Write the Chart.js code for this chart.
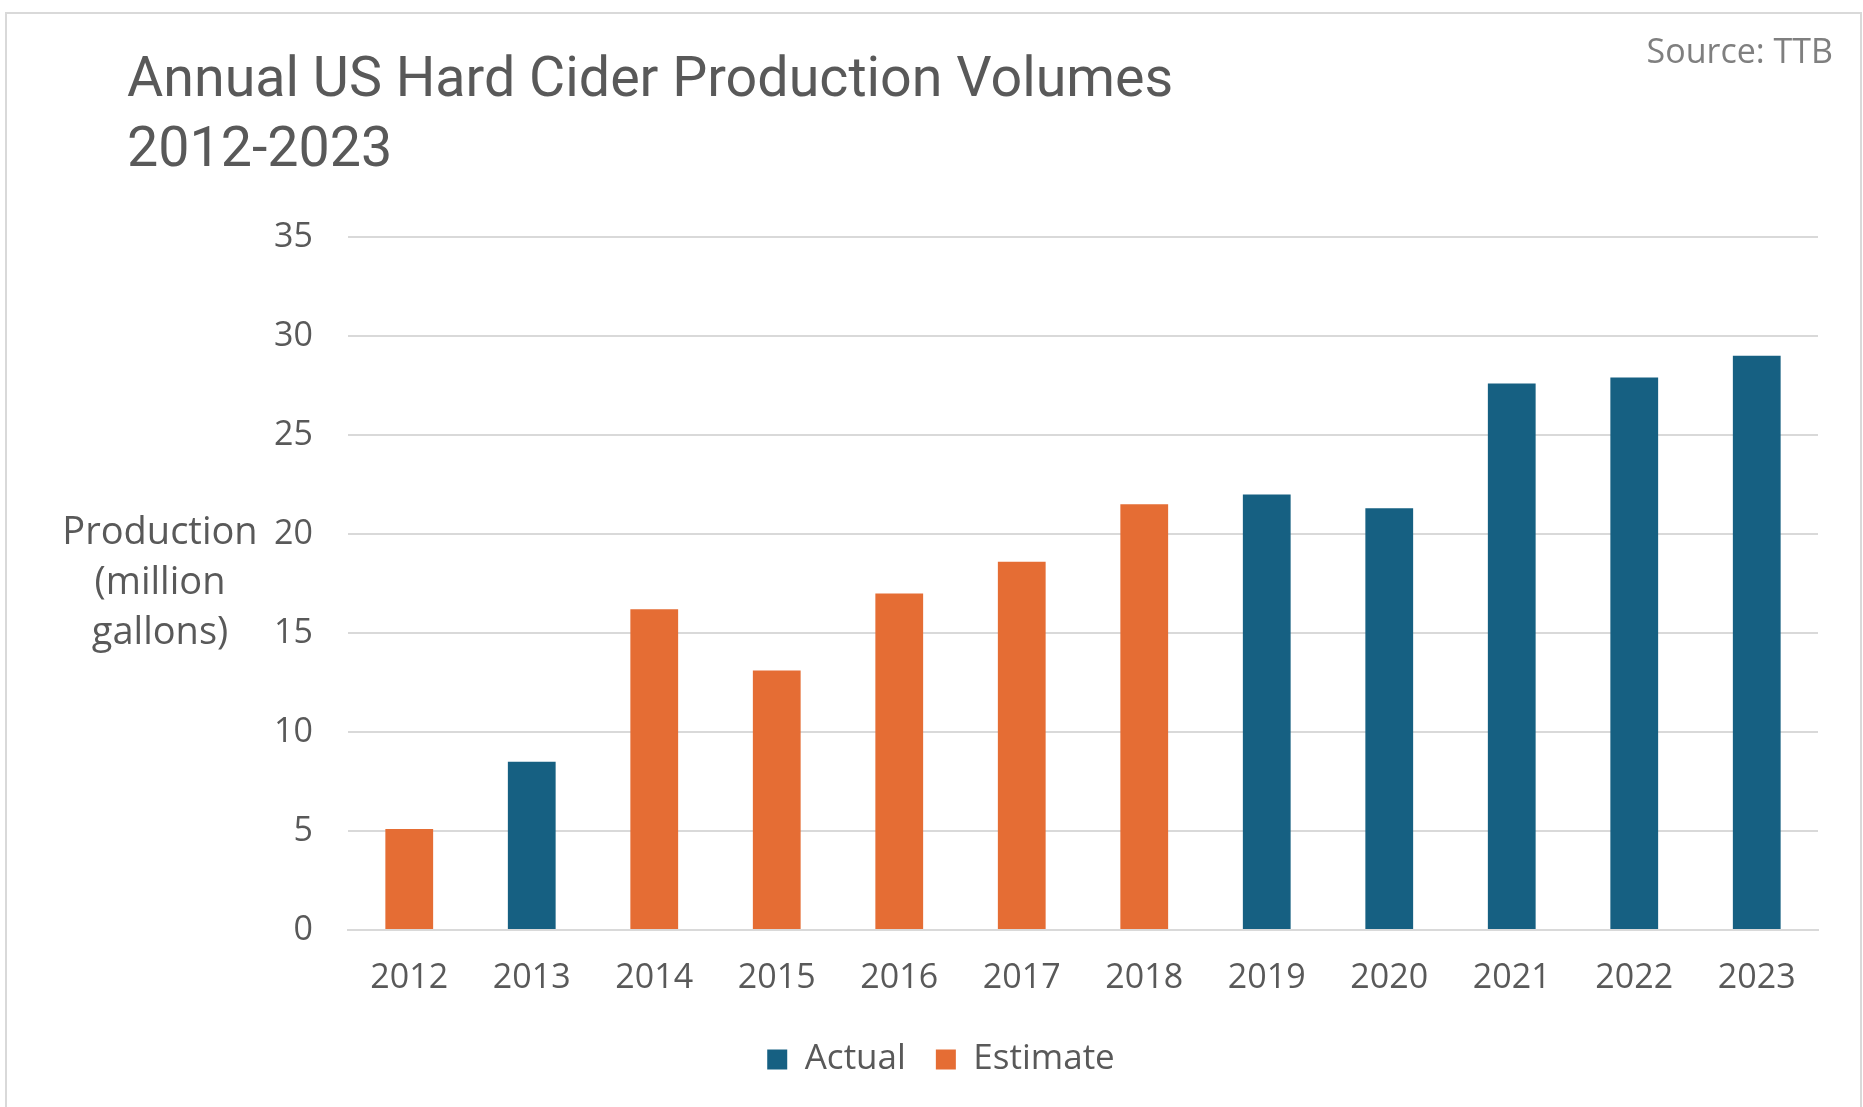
<!DOCTYPE html>
<html lang="en">
<head>
  <meta charset="UTF-8">
  <title>Annual US Hard Cider Production Volumes</title>
  <style>
    body {
      margin: 0; padding: 0;
      background: #fff;
      font-family: "Open Sans", sans-serif;
      overflow: hidden;
    }
    #frame {
      position: absolute;
      left: 5px; top: 12px;
      width: 1857px; height: 1200px;
      box-sizing: border-box;
      border: 2px solid #d9d9d9;
    }
    #title {
      position: absolute;
      left: 127px; top: 42px;
      font-family: Roboto, sans-serif;
      font-size: 55.6px;
      line-height: 70px;
      color: #595959;
    }
    #source {
      position: absolute;
      right: 30px; top: 27px;
      font-size: 34px;
      color: #7f7f7f;
    }
    #chart {
      position: absolute;
      left: 0; top: 0;
    }
  </style>
</head>
<body>
  <div id="frame"></div>
  <canvas id="chart" width="1863" height="1107"></canvas>
  <div id="title">Annual US Hard Cider Production Volumes<br>2012-2023</div>
  <div id="source">Source: TTB</div>

  <script src="https://cdn.jsdelivr.net/npm/chart.js"></script>
  <script>
    const years    = ['2012','2013','2014','2015','2016','2017','2018','2019','2020','2021','2022','2023'];
    const actual   = [null, 8.5, null, null, null, null, null, 22.0, 21.3, 27.6, 27.9, 29.0];
    const estimate = [5.1, null, 16.2, 13.1, 17.0, 18.6, 21.5, null, null, null, null, null];
    const yTitleLines = ['Production', '(million', 'gallons)'];

    const TEXT = '#595959', GRID = '#d9d9d9';
    const BLUE = '#166082', ORANGE = '#e56d34';

    // horizontal y-axis title, left of the ticks
    const yTitlePlugin = {
      id: 'yTitle',
      afterDraw(chart){
        const {ctx, chartArea} = chart;
        const mid = (chartArea.top + chartArea.bottom) / 2;
        ctx.save();
        ctx.font = '38px "Open Sans"';
        ctx.fillStyle = TEXT;
        ctx.textAlign = 'center';
        ctx.textBaseline = 'middle';
        yTitleLines.forEach((t,i)=> ctx.fillText(t, 160, mid + (i-1)*50));
        ctx.restore();
      }
    };

    new Chart(document.getElementById('chart').getContext('2d'), {
      type: 'bar',
      data: {
        labels: years,
        datasets: [
          { label:'Actual',   data: actual,   backgroundColor: BLUE },
          { label:'Estimate', data: estimate, backgroundColor: ORANGE }
        ]
      },
      options: {
        responsive: false,
        animation: false,
        devicePixelRatio: 1,
        grouped: false,
        barPercentage: 0.39,
        categoryPercentage: 1,
        // left padding + y width keep the plot at x=348 and centre the legend like the original
        layout: { padding: { top: 237, right: 45, bottom: 20, left: 64 } },
        scales: {
          x: {
            grid: { display: false, drawTicks: false },
            border: { display: true, color: GRID, width: 2 },
            ticks: { color: TEXT, font: { family: '"Open Sans"', size: 34 }, padding: 28 },
            afterFit(s){ s.height = 82; }
          },
          y: {
            min: 0, max: 35,
            ticks: { stepSize: 5, color: TEXT, font: { family: '"Open Sans"', size: 34 }, padding: 35 },
            grid: { color: GRID, lineWidth: 2, drawTicks: false },
            border: { display: false },
            afterFit(s){ s.width = 284; }
          }
        },
        plugins: {
          legend: {
            position: 'bottom',
            labels: {
              color: TEXT,
              font: { family: '"Open Sans"', size: 35 },
              boxWidth: 20, boxHeight: 20,
              padding: 30
            }
          },
          tooltip: { enabled: false }
        }
      },
      plugins: [yTitlePlugin]
    });
  </script>
</body>
</html>
